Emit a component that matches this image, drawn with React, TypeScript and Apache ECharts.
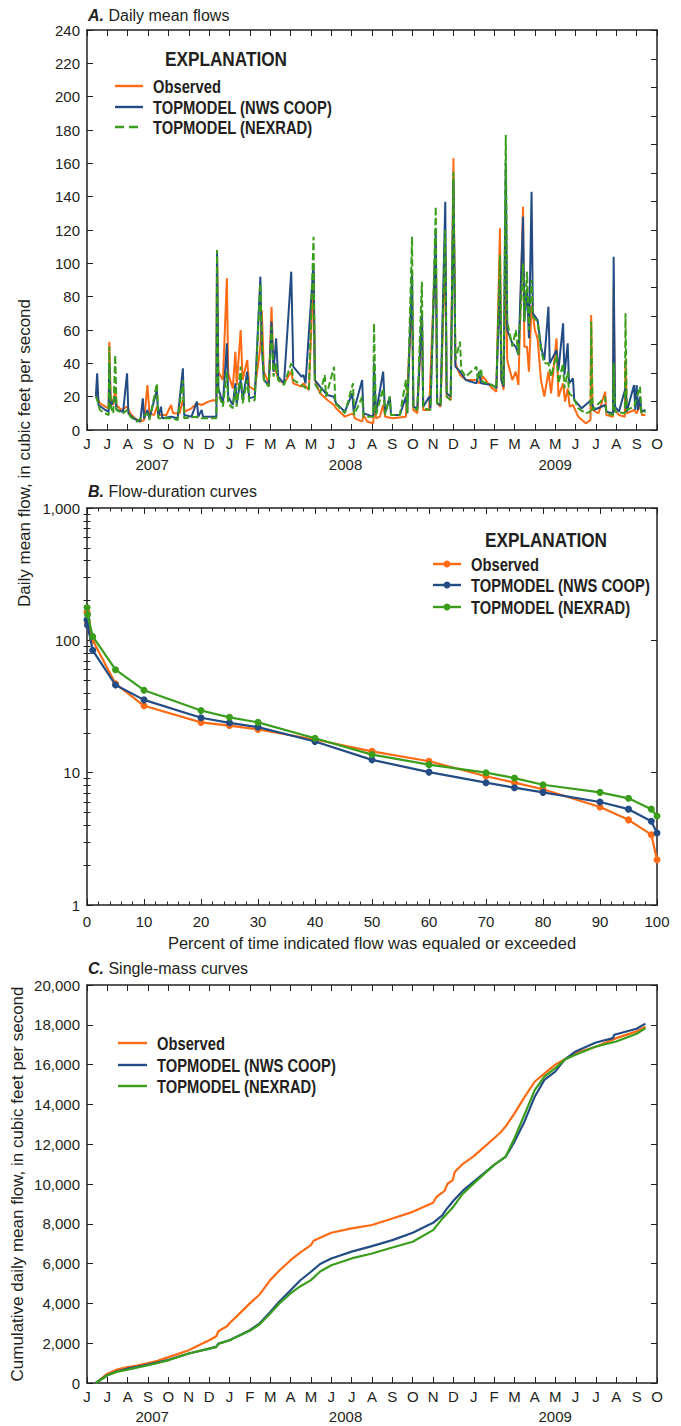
import React, { useEffect, useRef } from "react";
import * as echarts from "echarts";

// ---------------- DATA ----------------
const MONTH_LETTERS = ["J", "F", "M", "A", "M", "J", "J", "A", "S", "O", "N", "D"];
const YEAR_LABELS = ["2007", "2008", "2009"];
const YEAR_LABEL_POS = [3.2, 12.7, 23.0];
const SERIES_NAMES = ["Observed", "TOPMODEL (NWS COOP)", "TOPMODEL (NEXRAD)"];

// Panel A: daily mean flows (cfs)
const obsDaily: [string, number][] = [
  ["2007-06-14", 21], ["2007-06-16", 20], ["2007-06-20", 16], ["2007-06-28", 14], ["2007-07-03", 13], ["2007-07-04", 53],
  ["2007-07-06", 20], ["2007-07-10", 15], ["2007-07-13", 25], ["2007-07-15", 15], ["2007-07-22", 12], ["2007-07-31", 14],
  ["2007-08-05", 10], ["2007-08-12", 7], ["2007-08-20", 5], ["2007-08-26", 6], ["2007-08-31", 27], ["2007-09-03", 10],
  ["2007-09-10", 9], ["2007-09-14", 14], ["2007-09-17", 9], ["2007-09-28", 9], ["2007-10-05", 15], ["2007-10-08", 10],
  ["2007-10-18", 10], ["2007-10-23", 18], ["2007-10-26", 11], ["2007-11-05", 13], ["2007-11-13", 16], ["2007-11-20", 15],
  ["2007-11-30", 17], ["2007-12-08", 18], ["2007-12-12", 17], ["2007-12-13", 105], ["2007-12-15", 35], ["2007-12-22", 30],
  ["2007-12-28", 91], ["2007-12-30", 34], ["2008-01-06", 25], ["2008-01-10", 47], ["2008-01-12", 27], ["2008-01-18", 60],
  ["2008-01-21", 30], ["2008-01-28", 42], ["2008-01-31", 26], ["2008-02-08", 24], ["2008-02-16", 50], ["2008-02-18", 72],
  ["2008-02-21", 35], ["2008-02-28", 28], ["2008-03-03", 74], ["2008-03-06", 36], ["2008-03-10", 35], ["2008-03-14", 30],
  ["2008-03-22", 28], ["2008-04-02", 35], ["2008-04-05", 28], ["2008-04-17", 26], ["2008-04-20", 28], ["2008-04-28", 24],
  ["2008-05-05", 95], ["2008-05-07", 30], ["2008-05-15", 22], ["2008-05-26", 18], ["2008-06-05", 15], ["2008-06-08", 13],
  ["2008-06-21", 8], ["2008-07-03", 10], ["2008-07-06", 7], ["2008-07-17", 5], ["2008-07-19", 9], ["2008-07-25", 5],
  ["2008-08-03", 4], ["2008-08-04", 20], ["2008-08-07", 7], ["2008-08-13", 8], ["2008-08-18", 15], ["2008-08-21", 8],
  ["2008-09-02", 7], ["2008-09-21", 8], ["2008-09-30", 80], ["2008-10-02", 12], ["2008-10-08", 10], ["2008-10-15", 70],
  ["2008-10-17", 12], ["2008-10-26", 12], ["2008-11-05", 115], ["2008-11-07", 16], ["2008-11-12", 14], ["2008-11-19", 110],
  ["2008-11-21", 20], ["2008-11-27", 18], ["2008-12-01", 163], ["2008-12-04", 40], ["2008-12-11", 33], ["2008-12-20", 30],
  ["2009-01-05", 30], ["2009-01-09", 28], ["2009-01-15", 32], ["2009-01-29", 25], ["2009-02-04", 23], ["2009-02-09", 121],
  ["2009-02-11", 30], ["2009-02-14", 24], ["2009-02-17", 110], ["2009-02-19", 42], ["2009-02-26", 30], ["2009-03-03", 35],
  ["2009-03-07", 27], ["2009-03-14", 134], ["2009-03-16", 50], ["2009-03-20", 50], ["2009-03-23", 35], ["2009-03-27", 75],
  ["2009-04-01", 60], ["2009-04-05", 55], ["2009-04-10", 30], ["2009-04-15", 20], ["2009-04-21", 35], ["2009-04-25", 22],
  ["2009-05-03", 55], ["2009-05-06", 20], ["2009-05-13", 28], ["2009-05-16", 17], ["2009-05-20", 25], ["2009-05-23", 14],
  ["2009-05-28", 15], ["2009-06-05", 8], ["2009-06-16", 4], ["2009-06-23", 6], ["2009-06-24", 69], ["2009-06-26", 12],
  ["2009-07-05", 10], ["2009-07-15", 23], ["2009-07-17", 9], ["2009-07-27", 8], ["2009-07-28", 86], ["2009-07-30", 12],
  ["2009-08-05", 9], ["2009-08-14", 8], ["2009-08-15", 42], ["2009-08-17", 10], ["2009-08-28", 12], ["2009-09-01", 10],
  ["2009-09-06", 15], ["2009-09-09", 9], ["2009-09-14", 9],
];

const nwsDaily: [string, number][] = [
  ["2007-06-14", 20], ["2007-06-16", 34], ["2007-06-18", 15], ["2007-06-28", 12], ["2007-07-03", 11], ["2007-07-04", 40],
  ["2007-07-06", 14], ["2007-07-13", 20], ["2007-07-15", 12], ["2007-07-25", 11], ["2007-07-31", 34], ["2007-08-02", 10],
  ["2007-08-10", 7], ["2007-08-20", 5], ["2007-08-24", 19], ["2007-08-26", 7], ["2007-08-31", 12], ["2007-09-03", 7],
  ["2007-09-14", 24], ["2007-09-16", 8], ["2007-09-20", 14], ["2007-09-22", 7], ["2007-10-05", 8], ["2007-10-15", 7],
  ["2007-10-23", 37], ["2007-10-25", 9], ["2007-11-05", 8], ["2007-11-13", 17], ["2007-11-15", 8], ["2007-11-20", 12],
  ["2007-11-22", 8], ["2007-12-12", 8], ["2007-12-13", 108], ["2007-12-15", 25], ["2007-12-22", 16], ["2007-12-28", 52],
  ["2007-12-30", 20], ["2008-01-06", 15], ["2008-01-10", 28], ["2008-01-12", 16], ["2008-01-18", 30], ["2008-01-21", 18],
  ["2008-01-28", 35], ["2008-01-31", 19], ["2008-02-08", 20], ["2008-02-16", 92], ["2008-02-18", 50], ["2008-02-21", 30],
  ["2008-02-28", 27], ["2008-03-03", 65], ["2008-03-06", 35], ["2008-03-10", 55], ["2008-03-13", 32], ["2008-03-22", 28],
  ["2008-04-02", 95], ["2008-04-05", 38], ["2008-04-17", 32], ["2008-04-20", 33], ["2008-04-23", 28], ["2008-05-05", 100],
  ["2008-05-07", 30], ["2008-05-15", 26], ["2008-05-26", 21], ["2008-06-05", 20], ["2008-06-08", 16], ["2008-06-21", 11],
  ["2008-07-02", 22], ["2008-07-04", 11], ["2008-07-17", 30], ["2008-07-19", 10], ["2008-08-03", 8], ["2008-08-04", 40],
  ["2008-08-07", 10], ["2008-08-18", 35], ["2008-08-21", 10], ["2008-08-28", 20], ["2008-08-30", 9], ["2008-09-12", 9],
  ["2008-09-21", 20], ["2008-09-23", 10], ["2008-09-30", 95], ["2008-10-02", 14], ["2008-10-08", 13], ["2008-10-15", 70],
  ["2008-10-17", 14], ["2008-10-26", 20], ["2008-10-28", 13], ["2008-11-05", 120], ["2008-11-07", 16], ["2008-11-12", 15],
  ["2008-11-19", 137], ["2008-11-21", 22], ["2008-11-27", 20], ["2008-12-01", 150], ["2008-12-04", 38], ["2008-12-11", 35],
  ["2008-12-20", 30], ["2009-01-05", 28], ["2009-01-09", 35], ["2009-01-12", 28], ["2009-01-29", 27], ["2009-02-04", 25],
  ["2009-02-09", 90], ["2009-02-11", 30], ["2009-02-14", 26], ["2009-02-17", 160], ["2009-02-19", 60], ["2009-02-26", 52],
  ["2009-03-03", 50], ["2009-03-07", 45], ["2009-03-14", 128], ["2009-03-16", 65], ["2009-03-20", 85], ["2009-03-23", 55],
  ["2009-03-27", 143], ["2009-03-29", 70], ["2009-04-05", 66], ["2009-04-10", 50], ["2009-04-15", 42], ["2009-04-21", 74],
  ["2009-04-23", 40], ["2009-05-03", 48], ["2009-05-06", 36], ["2009-05-13", 64], ["2009-05-15", 33], ["2009-05-20", 52],
  ["2009-05-22", 28], ["2009-05-28", 31], ["2009-05-30", 18], ["2009-06-10", 13], ["2009-06-24", 18], ["2009-06-28", 12],
  ["2009-07-15", 15], ["2009-07-17", 11], ["2009-07-27", 10], ["2009-07-28", 104], ["2009-07-30", 14], ["2009-08-05", 11],
  ["2009-08-15", 25], ["2009-08-17", 11], ["2009-08-28", 27], ["2009-08-30", 12], ["2009-09-01", 27], ["2009-09-03", 12],
  ["2009-09-06", 20], ["2009-09-08", 11], ["2009-09-14", 12],
];

const nexDaily: [string, number][] = [
  ["2007-06-14", 20], ["2007-06-16", 18], ["2007-06-20", 12], ["2007-06-28", 10], ["2007-07-03", 9], ["2007-07-04", 50],
  ["2007-07-06", 14], ["2007-07-10", 10], ["2007-07-13", 45], ["2007-07-15", 12], ["2007-07-25", 10], ["2007-07-31", 12],
  ["2007-08-05", 8], ["2007-08-15", 5], ["2007-08-24", 8], ["2007-08-31", 10], ["2007-09-03", 6], ["2007-09-14", 28],
  ["2007-09-16", 7], ["2007-10-05", 7], ["2007-10-15", 6], ["2007-10-23", 30], ["2007-10-25", 7], ["2007-11-13", 8],
  ["2007-11-15", 7], ["2007-12-12", 7], ["2007-12-13", 108], ["2007-12-15", 22], ["2007-12-22", 14], ["2007-12-28", 35],
  ["2007-12-30", 16], ["2008-01-06", 13], ["2008-01-10", 25], ["2008-01-12", 14], ["2008-01-18", 38], ["2008-01-21", 16],
  ["2008-01-28", 30], ["2008-01-31", 17], ["2008-02-08", 18], ["2008-02-16", 88], ["2008-02-18", 55], ["2008-02-21", 30],
  ["2008-02-28", 26], ["2008-03-03", 62], ["2008-03-06", 32], ["2008-03-10", 40], ["2008-03-13", 30], ["2008-03-22", 27],
  ["2008-04-02", 40], ["2008-04-05", 30], ["2008-04-17", 27], ["2008-04-28", 24], ["2008-05-05", 116], ["2008-05-07", 28],
  ["2008-05-15", 22], ["2008-05-22", 33], ["2008-05-24", 20], ["2008-06-05", 38], ["2008-06-07", 16], ["2008-06-21", 10],
  ["2008-07-03", 28], ["2008-07-05", 9], ["2008-07-17", 20], ["2008-07-19", 8], ["2008-08-03", 8], ["2008-08-04", 64],
  ["2008-08-07", 9], ["2008-08-18", 25], ["2008-08-21", 9], ["2008-08-28", 20], ["2008-08-30", 9], ["2008-09-12", 9],
  ["2008-09-21", 30], ["2008-09-23", 10], ["2008-09-30", 116], ["2008-10-02", 13], ["2008-10-08", 12], ["2008-10-15", 89],
  ["2008-10-17", 13], ["2008-10-28", 12], ["2008-11-05", 134], ["2008-11-07", 16], ["2008-11-12", 15], ["2008-11-19", 120],
  ["2008-11-21", 20], ["2008-11-27", 18], ["2008-12-01", 155], ["2008-12-04", 42], ["2008-12-11", 53], ["2008-12-13", 36],
  ["2008-12-20", 32], ["2009-01-05", 38], ["2009-01-07", 30], ["2009-01-12", 37], ["2009-01-14", 29], ["2009-01-29", 27],
  ["2009-02-04", 25], ["2009-02-09", 105], ["2009-02-11", 35], ["2009-02-14", 27], ["2009-02-17", 177], ["2009-02-19", 65],
  ["2009-02-26", 50], ["2009-03-03", 60], ["2009-03-07", 45], ["2009-03-14", 100], ["2009-03-16", 65], ["2009-03-20", 95],
  ["2009-03-23", 60], ["2009-03-27", 90], ["2009-03-29", 68], ["2009-04-05", 65], ["2009-04-10", 48], ["2009-04-15", 40],
  ["2009-04-21", 40], ["2009-04-25", 32], ["2009-05-03", 45], ["2009-05-06", 28], ["2009-05-13", 40], ["2009-05-15", 25],
  ["2009-05-20", 35], ["2009-05-22", 22], ["2009-05-28", 20], ["2009-06-05", 13], ["2009-06-16", 10], ["2009-06-23", 11],
  ["2009-06-24", 65], ["2009-06-26", 12], ["2009-07-15", 20], ["2009-07-17", 10], ["2009-07-27", 9], ["2009-07-28", 40],
  ["2009-07-30", 11], ["2009-08-14", 10], ["2009-08-15", 70], ["2009-08-17", 12], ["2009-08-28", 14], ["2009-09-06", 26],
  ["2009-09-08", 10], ["2009-09-14", 11],
];

// Panel B: flow-duration curves
const fdcPercent = [0, 0.1, 1, 5, 10, 20, 25, 30, 40, 50, 60, 70, 75, 80, 90, 95, 99, 100];
const obsFdc = [163, 137, 100, 47, 32, 24, 22.7, 21.2, 17.8, 14.5, 12.2, 9.4, 8.4, 7.5, 5.5, 4.4, 3.4, 2.2];
const nwsFdc = [143, 130, 84, 46, 35.5, 26, 23.8, 22.1, 17.2, 12.5, 10.1, 8.4, 7.7, 7.1, 6.0, 5.3, 4.3, 3.5];
const nexFdc = [177, 156, 107, 60, 42, 29.5, 26.2, 24, 18.2, 13.7, 11.5, 10, 9.1, 8.1, 7.1, 6.4, 5.3, 4.7];
const LOG_MINOR_TICKS = [2, 3, 4, 5, 6, 7, 8, 9, 20, 30, 40, 50, 60, 70, 80, 90, 200, 300, 400, 500, 600, 700, 800, 900];

// Panel C: single-mass (cumulative) curves
const obsCum: [string, number][] = [
  ["2007-06-14", 0], ["2007-07-01", 470], ["2007-07-15", 670], ["2007-08-01", 800], ["2007-08-15", 880], ["2007-09-01", 1000],
  ["2007-09-15", 1120], ["2007-10-01", 1300], ["2007-10-15", 1450], ["2007-11-01", 1650], ["2007-11-15", 1880], ["2007-12-01", 2150],
  ["2007-12-12", 2350], ["2007-12-15", 2600], ["2007-12-28", 2850], ["2008-01-01", 3000], ["2008-01-15", 3450], ["2008-02-01", 4000],
  ["2008-02-15", 4450], ["2008-03-01", 5170], ["2008-03-15", 5650], ["2008-04-01", 6170], ["2008-04-15", 6550], ["2008-05-01", 6930],
  ["2008-05-05", 7150], ["2008-05-15", 7300], ["2008-06-01", 7550], ["2008-07-01", 7770], ["2008-08-01", 7940], ["2008-09-01", 8270],
  ["2008-10-01", 8600], ["2008-11-01", 9060], ["2008-11-06", 9350], ["2008-11-18", 9650], ["2008-11-22", 10000], ["2008-11-30", 10200],
  ["2008-12-03", 10600], ["2008-12-15", 11000], ["2009-01-01", 11400], ["2009-02-01", 12300], ["2009-02-10", 12600], ["2009-02-17", 12900],
  ["2009-03-01", 13550], ["2009-03-15", 14300], ["2009-04-01", 15150], ["2009-04-15", 15550], ["2009-05-01", 16000], ["2009-06-01", 16580],
  ["2009-07-01", 16900], ["2009-08-01", 17330], ["2009-09-01", 17670], ["2009-09-14", 17900],
];
const nwsCum: [string, number][] = [
  ["2007-06-14", 0], ["2007-07-01", 390], ["2007-07-15", 580], ["2007-08-01", 720], ["2007-08-15", 810], ["2007-09-01", 920],
  ["2007-10-01", 1170], ["2007-11-01", 1480], ["2007-12-01", 1730], ["2007-12-12", 1830], ["2007-12-15", 1980], ["2008-01-01", 2150],
  ["2008-01-15", 2380], ["2008-02-01", 2650], ["2008-02-15", 3000], ["2008-03-01", 3570], ["2008-03-15", 4100], ["2008-04-01", 4660],
  ["2008-04-15", 5150], ["2008-05-01", 5590], ["2008-05-15", 5980], ["2008-06-01", 6260], ["2008-07-01", 6600], ["2008-08-01", 6880],
  ["2008-09-01", 7180], ["2008-10-01", 7550], ["2008-11-01", 8050], ["2008-11-15", 8440], ["2008-11-20", 8700], ["2008-12-01", 9160],
  ["2008-12-15", 9650], ["2009-01-01", 10120], ["2009-02-01", 10960], ["2009-02-17", 11380], ["2009-03-01", 12130], ["2009-03-15", 13050],
  ["2009-04-01", 14400], ["2009-04-15", 15230], ["2009-05-01", 15650], ["2009-05-15", 16240], ["2009-06-01", 16660], ["2009-07-01", 17110],
  ["2009-07-27", 17330], ["2009-07-29", 17500], ["2009-09-01", 17800], ["2009-09-14", 18060],
];
const nexCum: [string, number][] = [
  ["2007-06-14", 0], ["2007-07-01", 390], ["2007-07-15", 560], ["2007-08-01", 670], ["2007-09-01", 890], ["2007-10-01", 1140],
  ["2007-11-01", 1480], ["2007-12-01", 1730], ["2007-12-12", 1800], ["2007-12-15", 1960], ["2008-01-01", 2150], ["2008-02-01", 2620],
  ["2008-02-15", 2950], ["2008-03-01", 3490], ["2008-03-15", 4000], ["2008-04-01", 4500], ["2008-04-15", 4850], ["2008-05-01", 5170],
  ["2008-05-15", 5600], ["2008-06-01", 5920], ["2008-07-01", 6260], ["2008-08-01", 6510], ["2008-09-01", 6810], ["2008-10-01", 7100],
  ["2008-11-01", 7680], ["2008-11-15", 8270], ["2008-12-01", 8860], ["2008-12-15", 9500], ["2009-01-01", 10030], ["2009-02-01", 10960],
  ["2009-02-17", 11380], ["2009-03-01", 12300], ["2009-03-15", 13400], ["2009-04-01", 14730], ["2009-04-15", 15400], ["2009-05-01", 15820],
  ["2009-05-15", 16240], ["2009-06-01", 16490], ["2009-07-01", 16910], ["2009-08-01", 17160], ["2009-09-01", 17550], ["2009-09-14", 17830],
];

// ---------------- STYLE ----------------
const C_OBS = "#ff6a13";
const C_NWS = "#234c84";
const C_NEX = "#3a9e1c";
const INK = "#231f20";
const FONT = "'Liberation Sans', Arial, sans-serif";
const CONDENSE = 0.82;
const RIGHT_TICK_STEP_A = 17.12;
const DASH = [7, 3];

function monthIndex(d: string): number {
  const [y, m, day] = d.split("-").map(Number);
  const dim = new Date(y, m, 0).getDate();
  return (y - 2007) * 12 + (m - 6) + (day - 1) / dim;
}
const toXY = (arr: [string, number][]) => arr.map(([d, v]) => [monthIndex(d), v]);
const monthLabel = (v: number) => MONTH_LETTERS[(5 + Math.round(v)) % 12];
const yearLabel = (v: number) => {
  const i = YEAR_LABEL_POS.findIndex((p) => Math.abs(p - v) < 0.01);
  return i >= 0 ? YEAR_LABELS[i] : "";
};

const line = { show: true, onZero: false, lineStyle: { color: INK, width: 1.5 } };
const tick = (len = 6) => ({ show: true, inside: true, length: len, lineStyle: { color: INK, width: 1 } });
const label = (margin: number, extra: any = {}) => ({
  show: true, margin, color: INK, fontFamily: FONT, fontSize: 15, ...extra,
});
const noLabel = { show: false };

function buildOption(): any {
  const gridA = { left: 87, top: 30, width: 570, height: 400 };
  const gridB = { left: 87, top: 508, width: 570, height: 397 };
  const gridC = { left: 87, top: 985, width: 570, height: 398 };

  const monthAxis = (gridIndex: number, pos: "bottom" | "top", margin: number) => ({
    type: "value", gridIndex, position: pos, min: 0, max: 28, interval: 1,
    axisLine: line, axisTick: tick(6), splitLine: { show: false },
    axisLabel: pos === "bottom" ? label(margin, { formatter: monthLabel }) : noLabel,
  });
  const yearAxis = (gridIndex: number, margin: number) => ({
    type: "value", gridIndex, position: "bottom", min: 0, max: 28,
    axisLine: { show: false }, axisTick: { show: false }, splitLine: { show: false },
    axisLabel: label(margin, { customValues: YEAR_LABEL_POS, formatter: yearLabel }),
  });
  const pctAxis = (pos: "bottom" | "top") => ({
    type: "value", gridIndex: 1, position: pos, min: 0, max: 100, interval: 10,
    axisLine: line, axisTick: tick(6), splitLine: { show: false },
    minorTick: { show: true, splitNumber: 5, length: 3.5, lineStyle: { color: INK, width: 1 } },
    axisLabel: pos === "bottom" ? label(9) : noLabel,
  });
  const logAxis = (pos: "left" | "right", minor: boolean) => ({
    type: "log", logBase: 10, gridIndex: 1, position: pos, min: 1, max: 1000,
    axisLine: minor ? { show: false } : line,
    axisTick: minor ? { ...tick(3.5), customValues: LOG_MINOR_TICKS } : tick(6),
    splitLine: { show: false },
    axisLabel: pos === "left" && !minor ? label(7, { formatter: (v: number) => v.toLocaleString("en-US") }) : noLabel,
  });

  const xAxis = [
    monthAxis(0, "bottom", 6), monthAxis(0, "top", 0), yearAxis(0, 27),
    { ...pctAxis("bottom"), name: "Percent of time indicated flow was equaled or exceeded", nameLocation: "middle", nameGap: 29,
      nameTextStyle: { color: INK, fontFamily: FONT, fontSize: 16.5 } },
    pctAxis("top"),
    monthAxis(2, "bottom", 6), monthAxis(2, "top", 0), yearAxis(2, 26),
  ];
  const yAxis = [
    { type: "value", gridIndex: 0, position: "left", min: 0, max: 240, interval: 20, axisLine: line, axisTick: tick(6),
      splitLine: { show: false }, axisLabel: label(7) },
    { type: "value", gridIndex: 0, position: "right", min: 0, max: 240, interval: RIGHT_TICK_STEP_A, axisLine: line,
      axisTick: tick(6), splitLine: { show: false }, axisLabel: noLabel },
    logAxis("left", false), logAxis("left", true), logAxis("right", false), logAxis("right", true),
    { type: "value", gridIndex: 2, position: "left", min: 0, max: 20000, interval: 2000, axisLine: line, axisTick: tick(6),
      splitLine: { show: false }, axisLabel: label(7, { formatter: (v: number) => v.toLocaleString("en-US") }) },
    { type: "value", gridIndex: 2, position: "right", min: 0, max: 20000, interval: 2000, axisLine: line, axisTick: tick(6),
      splitLine: { show: false }, axisLabel: noLabel },
  ];

  const colors = [C_OBS, C_NWS, C_NEX];
  const daily = [obsDaily, nwsDaily, nexDaily];
  const fdc = [obsFdc, nwsFdc, nexFdc];
  const cum = [obsCum, nwsCum, nexCum];
  const series: any[] = [];
  for (let i = 0; i < 3; i++) {
    series.push({
      name: SERIES_NAMES[i], type: "line", xAxisIndex: 0, yAxisIndex: 0, symbol: "none", clip: true,
      data: toXY(daily[i]), z: 2 + i,
      lineStyle: { color: colors[i], width: 2, type: i === 2 ? DASH : "solid" },
    });
  }
  for (let i = 0; i < 3; i++) {
    series.push({
      name: SERIES_NAMES[i], type: "line", xAxisIndex: 3, yAxisIndex: 2, symbol: "circle", symbolSize: 7,
      data: fdcPercent.map((p, k) => [p, fdc[i][k]]), z: 2 + i,
      lineStyle: { color: colors[i], width: 2.2 }, itemStyle: { color: colors[i] },
    });
  }
  for (let i = 0; i < 3; i++) {
    series.push({
      name: SERIES_NAMES[i], type: "line", xAxisIndex: 5, yAxisIndex: 6, symbol: "none",
      data: toXY(cum[i]), z: 2 + i,
      lineStyle: { color: colors[i], width: 2.2 },
    });
  }

  const txt = (x: number, y: number, text: string, extra: any = {}, scaleX = 1) => ({
    type: "text", x, y, scaleX,
    style: { text, fill: INK, fontFamily: FONT, fontSize: 16, verticalAlign: "middle", align: "left", ...extra },
  });
  const boldNarrow = (x: number, y: number, text: string, size: number, align = "left") =>
    txt(x, y, text, { fontWeight: "bold", fontSize: size, align }, CONDENSE);
  const title = (y: number, letter: string, rest: string) => ({
    type: "text", x: 88, y,
    style: {
      text: `{b|${letter}} ${rest}`, fill: INK, fontFamily: FONT, fontSize: 16, verticalAlign: "middle",
      rich: { b: { fontWeight: "bold", fontStyle: "italic", fontFamily: FONT, fontSize: 16, fill: INK } },
    },
  });
  const legendEntries = (x1: number, x2: number, tx: number, ys: number[], dashedNex: boolean, markers: boolean) => {
    const els: any[] = [];
    ys.forEach((y, i) => {
      els.push({ type: "line", shape: { x1, y1: y, x2, y2: y },
        style: { stroke: colors[i], lineWidth: 2.4, lineDash: i === 2 && dashedNex ? [9, 5] : null } });
      if (markers) els.push({ type: "circle", shape: { cx: (x1 + x2) / 2, cy: y, r: 3.5 }, style: { fill: colors[i] } });
      els.push(boldNarrow(tx, y, SERIES_NAMES[i], 18));
    });
    return els;
  };

  const graphic = [
    title(15, "A.", "Daily mean flows"),
    title(491, "B.", "Flow-duration curves"),
    title(968, "C.", "Single-mass curves"),
    { type: "text", x: 24, y: 453, rotation: Math.PI / 2,
      style: { text: "Daily mean flow, in cubic feet per second", fill: INK, fontFamily: FONT, fontSize: 17,
        align: "center", verticalAlign: "middle" } },
    { type: "text", x: 17, y: 1184, rotation: Math.PI / 2,
      style: { text: "Cumulative daily mean flow, in cubic feet per second", fill: INK, fontFamily: FONT, fontSize: 17,
        align: "center", verticalAlign: "middle" } },
    boldNarrow(226, 59, "EXPLANATION", 21, "center"),
    ...legendEntries(115, 143, 153, [86, 107, 127], true, false),
    boldNarrow(546, 540, "EXPLANATION", 21, "center"),
    ...legendEntries(433, 461, 471, [564, 585, 607], false, true),
    ...legendEntries(118, 147, 157, [1043, 1065, 1086], false, false),
  ];

  return {
    animation: false,
    backgroundColor: "#ffffff",
    grid: [gridA, gridB, gridC],
    xAxis, yAxis, series, graphic,
  };
}

export default function App() {
  const ref = useRef<HTMLDivElement>(null);
  useEffect(() => {
    if (!ref.current) return;
    const chart = echarts.init(ref.current, undefined, { renderer: "svg" });
    chart.setOption(buildOption());
    return () => chart.dispose();
  }, []);
  return <div ref={ref} style={{ position: "absolute", left: 0, top: 0, width: 681, height: 1426, background: "#fff" }} />;
}
